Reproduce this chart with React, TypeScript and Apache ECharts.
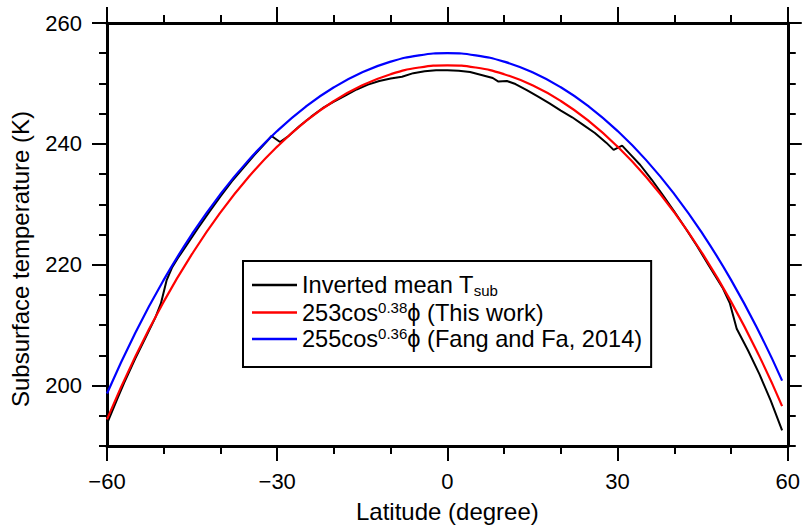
import React, { useEffect, useRef } from "react";
import * as echarts from "echarts";

const FONT = "'Liberation Sans', Arial, Helvetica, sans-serif";

// Latitude grid for the two fitted curves (degrees)
const fitLat = [-60, -55, -50, -45, -40, -35, -30, -25, -20, -15, -10, -5, 0, 5, 10, 15, 20, 25, 30, 35, 40, 45, 50, 55, 59];
// 253cos^0.38(phi) (This work)
const thisWork = [194.41, 204.83, 213.89, 221.78, 228.66, 234.56, 239.54, 243.72, 247.10, 249.69, 251.53, 252.63, 253.0, 252.63, 251.53, 249.69, 247.10, 243.72, 239.54, 234.56, 228.66, 221.78, 213.89, 204.83, 196.61];
// 255cos^0.36(phi) (Fang and Fa, 2014)
const fangFa = [198.69, 208.75, 217.49, 225.09, 231.69, 237.35, 242.13, 246.13, 249.36, 251.84, 253.60, 254.65, 255.0, 254.65, 253.60, 251.84, 249.36, 246.13, 242.13, 237.35, 231.69, 225.09, 217.49, 208.75, 200.81];

// Inverted mean T_sub
const invLat = [-60, -58, -57, -55, -53, -51.5, -50.5, -49.5, -48.5, -47.5, -46, -44, -42, -40, -38, -36, -34, -32, -31, -29.5, -28, -26, -24, -22, -20, -18, -16, -14, -12, -10, -8, -6, -4, -2, 0, 2, 4, 6, 8, 9, 10.5, 12, 14, 16, 18, 20, 22, 24, 26, 28, 29.3, 30.8, 32, 34, 36, 38, 40, 42, 44, 46, 48.5, 49.8, 51, 53, 55, 57, 59];
const invT = [193.7, 198.2, 200.4, 204.5, 208.3, 211.2, 213.6, 217.4, 219.6, 221.1, 223.2, 226.0, 228.7, 231.3, 233.8, 236.0, 238.2, 240.2, 241.3, 240.3, 241.3, 243.0, 244.5, 245.9, 247.0, 248.0, 249.0, 249.8, 250.4, 250.8, 251.1, 251.7, 252.0, 252.2, 252.2, 252.1, 251.9, 251.4, 250.9, 250.3, 250.4, 249.9, 248.9, 247.8, 246.7, 245.5, 244.4, 243.1, 241.8, 240.2, 239.0, 239.7, 238.5, 236.5, 234.1, 231.5, 228.8, 226.0, 223.1, 220.0, 216.2, 213.6, 209.4, 205.8, 201.9, 197.5, 192.6];

const yMajor = [200, 220, 240, 260];
const seriesNames = ["Inverted mean Tsub", "253cos0.38ϕ (This work)", "255cos0.36ϕ (Fang and Fa, 2014)"];

export default function App() {
  const ref = useRef<HTMLDivElement>(null);
  useEffect(() => {
    if (!ref.current) return;
    const chart = echarts.init(ref.current, undefined, { renderer: "svg" });
    const axisLine = { show: true, onZero: false, lineStyle: { color: "#000", width: 3 } };
    const minorY = (pos: string) => ({
      type: "value", position: pos, min: 190, max: 260, interval: 5,
      axisLine, axisTick: { show: true, length: 8, lineStyle: { color: "#000", width: 2 } },
      axisLabel: { show: false }, splitLine: { show: false },
    });
    const majorY = (pos: string, labels: boolean) => ({
      type: "value", position: pos, min: 190, max: 260,
      axisLine: { show: false, onZero: false },
      axisTick: { show: true, customValues: yMajor, length: pos === "left" ? 15 : 14, lineStyle: { color: "#000", width: 2 } },
      axisLabel: { show: labels, customValues: yMajor, fontSize: 22, color: "#000", fontFamily: FONT, margin: 25 },
      splitLine: { show: false },
    });
    const xAx = (pos: string, labels: boolean) => ({
      type: "value", position: pos, min: -60, max: 60, interval: 30,
      axisLine,
      axisTick: { show: true, length: pos === "bottom" ? 15 : 16, lineStyle: { color: "#000", width: 2 } },
      minorTick: { show: true, splitNumber: 3, length: 8, lineStyle: { color: "#000", width: 2 } },
      axisLabel: {
        show: labels, fontSize: 22, color: "#000", fontFamily: FONT, margin: 24,
        formatter: (v: number) => (v < 0 ? "\u2212" + Math.abs(v) : String(v)),
      },
      splitLine: { show: false },
      ...(labels ? {
        name: "Latitude (degree)", nameLocation: "middle", nameGap: 53,
        nameTextStyle: { fontSize: 24, color: "#000", fontFamily: FONT },
      } : {}),
    });
    chart.setOption({
      animation: false,
      backgroundColor: "#fff",
      grid: { left: 107, right: 14, top: 23, bottom: 80, containLabel: false },
      xAxis: [xAx("bottom", true), xAx("top", false)],
      yAxis: [minorY("left"), majorY("left", true), minorY("right"), majorY("right", false)],
      legend: {
        orient: "vertical", left: 243, top: 261,
        data: seriesNames,
        icon: "rect",
        backgroundColor: "#fff", borderColor: "#000", borderWidth: 2,
        padding: [12, 9, 16, 9], itemGap: 1.5, itemWidth: 45, itemHeight: 2.5,
        formatter: (name: string) => {
          if (name.startsWith("Inverted")) return "{a|Inverted mean T}{sub|sub}";
          if (name.startsWith("253")) return "{a|253cos}{sup|0.38}{a|ϕ (This work)}";
          return "{a|255cos}{sup|0.36}{a|ϕ (Fang and Fa, 2014)}";
        },
        textStyle: {
          color: "#000", fontFamily: FONT, fontSize: 23.6,
          rich: {
            a: { fontSize: 23.6, lineHeight: 26, color: "#000", fontFamily: FONT },
            sup: { fontSize: 15, lineHeight: 15, verticalAlign: "top", color: "#000", fontFamily: FONT },
            sub: { fontSize: 15, lineHeight: 15, verticalAlign: "bottom", color: "#000", fontFamily: FONT },
          },
        },
      },
      graphic: [
        {
          type: "text", x: 20, y: 259, rotation: Math.PI / 2,
          style: { text: "Subsurface temperature (K)", fontSize: 24, fontFamily: FONT, fill: "#000", textAlign: "center", textVerticalAlign: "middle" },
        },
      ],
      series: [
        {
          name: seriesNames[0], type: "line", symbol: "none", xAxisIndex: 0, yAxisIndex: 0,
          data: invLat.map((x, i) => [x, invT[i]]),
          lineStyle: { color: "#000", width: 2 }, itemStyle: { color: "#000" },
        },
        {
          name: seriesNames[1], type: "line", symbol: "none", smooth: true, xAxisIndex: 0, yAxisIndex: 0,
          data: fitLat.map((x, i) => [x, thisWork[i]]),
          lineStyle: { color: "#ff0000", width: 2.2 }, itemStyle: { color: "#ff0000" },
        },
        {
          name: seriesNames[2], type: "line", symbol: "none", smooth: true, xAxisIndex: 0, yAxisIndex: 0,
          data: fitLat.map((x, i) => [x, fangFa[i]]),
          lineStyle: { color: "#0000ff", width: 2.2 }, itemStyle: { color: "#0000ff" },
        },
      ],
    });
    return () => chart.dispose();
  }, []);
  return <div ref={ref} style={{ position: "absolute", left: 0, top: 0, width: 803, height: 528 }} />;
}
